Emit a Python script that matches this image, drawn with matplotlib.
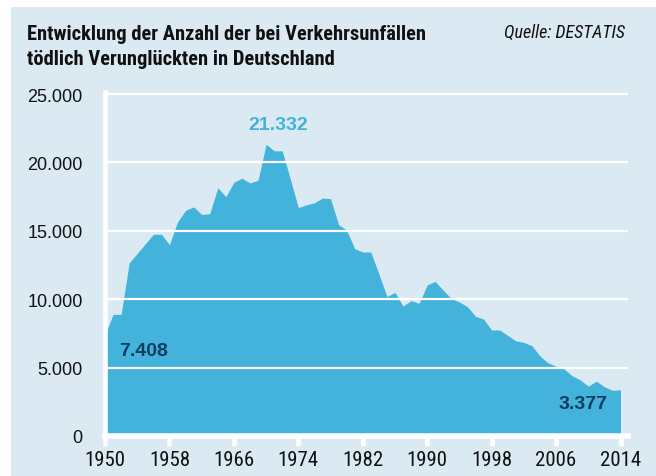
import matplotlib
matplotlib.use('Agg')
from matplotlib import pyplot as plt
from matplotlib.patches import Rectangle

# Verkehrstote in Deutschland, 1950-2014
years = list(range(1950, 2015))
deaths = [7408, 8890, 8890, 12650, 13350, 14050, 14750, 14750, 13990, 15650,
          16500, 16750, 16200, 16250, 18150, 17500, 18550, 18850, 18500, 18700,
          21332, 20850, 20850, 18800, 16700, 16900, 17050, 17400, 17350, 15450,
          15050, 13700, 13450, 13450, 11850, 10200, 10500, 9500, 9900, 9700,
          11050, 11300, 10650, 10050, 9800, 9450, 8750, 8550, 7750, 7750,
          7350, 6950, 6850, 6600, 5850, 5350, 5100, 4900, 4400, 4100,
          3650, 4009, 3600, 3339, 3377]

x_ticks = [1950, 1958, 1966, 1974, 1982, 1990, 1998, 2006, 2014]
y_ticks = [0, 5000, 10000, 15000, 20000, 25000]
y_labels = ['0', '5.000', '10.000', '15.000', '20.000', '25.000']

title = 'Entwicklung der Anzahl der bei Verkehrsunfällen\ntödlich Verunglückten in Deutschland'
source = 'Quelle: DESTATIS'

bg = '#dbeaf2'
fill_col = '#43b3dc'
dark = '#0e3d63'
narrow = ['Liberation Sans Narrow', 'Roboto Condensed', 'Roboto', 'DejaVu Sans']

fig = plt.figure(figsize=(6.56, 4.77), dpi=100)
fig.patch.set_facecolor('white')
panel = Rectangle((11 / 656, 0), 1, (477 - 8) / 477, transform=fig.transFigure,
                  facecolor=bg, edgecolor='none', zorder=-10)
fig.add_artist(panel)

ax = fig.add_axes([105 / 656, 40 / 477, 523 / 656, 344 / 477])
ax.set_facecolor(bg)
ax.fill_between(years, deaths, 0, color=fill_col, lw=0)

ax.set_xlim(1950, 2014.93)
ax.set_ylim(0, 25150)
ax.set_axisbelow(False)
ax.yaxis.grid(True, color='white', lw=1.6)
ax.xaxis.grid(False)

for s in ['top', 'right']:
    ax.spines[s].set_visible(False)
ax.spines['left'].set_color('white')
ax.spines['left'].set_linewidth(3.3)
ax.spines['bottom'].set_color('white')
ax.spines['bottom'].set_linewidth(4)
ax.spines['bottom'].set_zorder(3)

ax.set_xticks(x_ticks)
ax.set_xticklabels([str(y) for y in x_ticks], family=narrow, fontsize=15)
ax.set_yticks(y_ticks)
ax.set_yticklabels(y_labels, family='Liberation Sans', fontsize=13)
ax.tick_params(axis='x', colors='white', length=7, width=3.3, pad=3, labelcolor='#111111')
ax.tick_params(axis='y', length=0, pad=16, labelcolor='#111111')

ax.text(1971.5, 22750, '21.332', color=fill_col, fontsize=14, fontweight='bold',
        family='Liberation Sans', ha='center', va='center')
ax.text(1954.8, 6235, '7.408', color=dark, fontsize=14, fontweight='bold',
        family='Liberation Sans', ha='center', va='center')
ax.text(2009.4, 2412, '3.377', color=dark, fontsize=14, fontweight='bold',
        family='Liberation Sans', ha='center', va='center')

fig.text(27 / 656, 1 - 47 / 477, title, family=narrow, fontweight='bold',
         fontsize=14.8, color='#111111', ha='left', va='center', linespacing=1.45)
fig.text(625 / 656, 1 - 33 / 477, source, family=narrow, style='italic',
         fontsize=13, color='#111111', ha='right', va='center')

fig.savefig('out.png', dpi=100)
